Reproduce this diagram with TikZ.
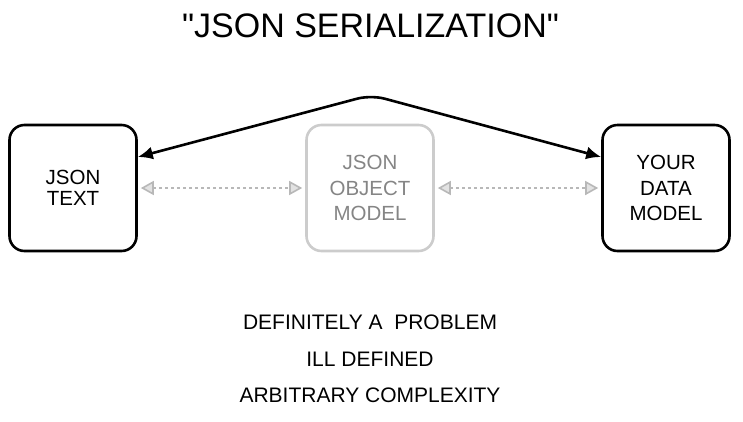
\documentclass[tikz,border=0pt]{standalone}
\usepackage{fontspec}
\setmainfont{Liberation Sans}
\newfontfamily\plainsans{Liberation Sans}
\usetikzlibrary{arrows.meta}
\definecolor{boxgray}{HTML}{CCCCCC}
\definecolor{txtgray}{HTML}{858585}
\definecolor{dotgray}{HTML}{B8B8B8}
\definecolor{headfill}{HTML}{E2E2E2}
\tikzset{
  boxnode/.style={draw=black, line width=2.6pt, rounded corners=15pt,
    minimum width=127pt, minimum height=126pt, align=center, inner sep=0pt,
    font=\fontsize{20.5}{25.7}\selectfont},
  ghostbox/.style={boxnode, draw=boxgray, text=txtgray},
  mainarrow/.style={line width=2.6pt, rounded corners=14pt,
    {Latex[length=15pt,width=13pt]}-{Latex[length=15pt,width=13pt]}},
  dotarrow/.style={draw=dotgray, line width=2.6pt, dash pattern=on 2.6pt off 3.4pt,
    {Triangle[length=13pt,width=14pt,fill=headfill,line width=1.6pt]}-{Triangle[length=13pt,width=14pt,fill=headfill,line width=1.6pt]},
    shorten <=3pt, shorten >=3pt},
  bottomtext/.style={anchor=base, font=\fontsize{21}{24}\selectfont}
}
\begin{document}
\begin{tikzpicture}[x=1pt,y=-1pt]
\useasboundingbox (0,0) rectangle (743,421);
\node[anchor=base, font=\plainsans\fontsize{34}{38}\selectfont] (title) at (370.5,37) {"JSON SERIALIZATION"};
\node[boxnode, font=\fontsize{20.5}{21.5}\selectfont] (jt) at (73,188) {JSON\\TEXT};
\node[ghostbox] (jom) at (370,188) {JSON\\OBJECT\\MODEL};
\node[boxnode] (dm) at (666,188) {YOUR\\DATA\\MODEL};
\coordinate (apex) at (371,95);
\draw[mainarrow] ([yshift=31pt]jt.east) -- (apex) -- ([yshift=31pt]dm.west);
\draw[dotarrow] (jt.east) -- (jom.west);
\draw[dotarrow] (jom.east) -- (dm.west);
\node[bottomtext] (t1) at (370,329) {DEFINITELY A~ PROBLEM};
\node[bottomtext] (t2) at (370,366) {ILL DEFINED};
\node[bottomtext] (t3) at (370,402) {ARBITRARY COMPLEXITY};
\end{tikzpicture}
\end{document}
